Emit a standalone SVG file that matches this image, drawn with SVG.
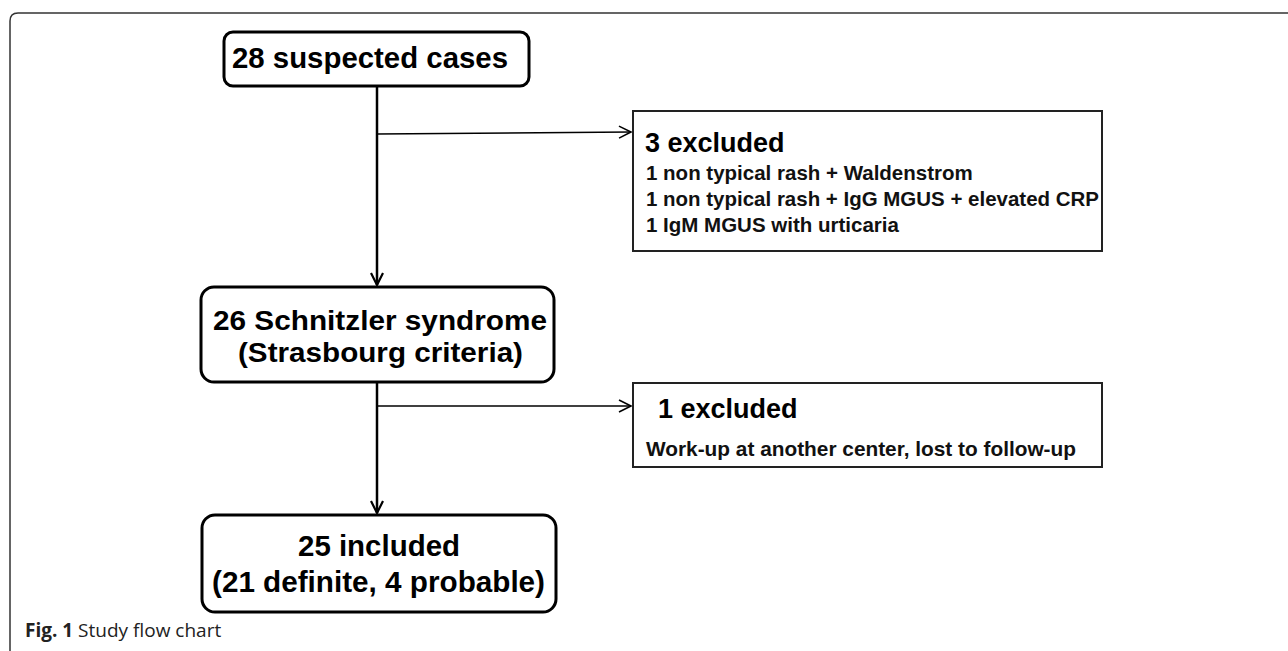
<svg xmlns="http://www.w3.org/2000/svg" width="1288" height="651" viewBox="0 0 1288 651">
<defs>
<style>
.frame{fill:none;stroke:#333;stroke-width:1.5}
.rbox{fill:#fff;stroke:#000;stroke-width:3}
.sbox{fill:#fff;stroke:#222;stroke-width:2}
.big{font-family:"Liberation Sans",Arial,sans-serif;font-weight:bold;fill:#000}
.small{font-family:"Liberation Sans",Arial,sans-serif;font-weight:bold;font-size:20.5px;fill:#111}
.main{fill:none;stroke:#000;stroke-width:2.5}
.branch{fill:none;stroke:#000;stroke-width:1.6}
.cap{font-family:"Open Sans","Noto Sans",sans-serif;font-size:19px;fill:#222}
</style>
<marker id="arrV" markerWidth="16" markerHeight="16" viewBox="0 0 16 16" refX="14" refY="8" orient="auto" markerUnits="userSpaceOnUse">
<path d="M2,2 L14,8 L2,14" fill="none" stroke="#000" stroke-width="2.2"/>
</marker>
<marker id="arrH" markerWidth="16" markerHeight="16" viewBox="0 0 16 16" refX="14" refY="8" orient="auto" markerUnits="userSpaceOnUse">
<path d="M2,2 L14,8 L2,14" fill="none" stroke="#000" stroke-width="1.6"/>
</marker>
</defs>
<rect width="1288" height="651" fill="#fff"/>
<path class="frame" d="M10,651 L10,21 Q10,13 18,13 L1288,13"/>

<g id="connectors">
<line class="main" x1="377" y1="86" x2="377" y2="285" marker-end="url(#arrV)"/>
<line class="branch" x1="377" y1="134" x2="631" y2="132" marker-end="url(#arrH)"/>
<line class="main" x1="377" y1="382" x2="377" y2="513" marker-end="url(#arrV)"/>
<line class="branch" x1="377" y1="406" x2="631" y2="406" marker-end="url(#arrH)"/>
</g>

<g id="node-suspected">
<rect class="rbox" x="224" y="32" width="305" height="54" rx="9"/>
<text class="big" x="232" y="68" font-size="29" textLength="276" lengthAdjust="spacingAndGlyphs">28 suspected cases</text>
</g>

<g id="node-excluded3">
<rect class="sbox" x="633" y="111" width="469" height="140"/>
<text class="big" x="645" y="152" font-size="27">3 excluded</text>
<text class="small" x="646" y="180">1 non typical rash + Waldenstrom</text>
<text class="small" x="646" y="206" textLength="453" lengthAdjust="spacingAndGlyphs">1 non typical rash + IgG MGUS + elevated CRP</text>
<text class="small" x="646" y="232">1 IgM MGUS with urticaria</text>
</g>

<g id="node-schnitzler">
<rect class="rbox" x="201" y="287" width="353" height="95" rx="13"/>
<text class="big" x="213" y="330" font-size="28.5" textLength="334" lengthAdjust="spacingAndGlyphs">26 Schnitzler syndrome</text>
<text class="big" x="238" y="362" font-size="28.5" textLength="285" lengthAdjust="spacingAndGlyphs">(Strasbourg criteria)</text>
</g>

<g id="node-excluded1">
<rect class="sbox" x="633" y="383" width="469" height="84"/>
<text class="big" x="658" y="418" font-size="27">1 excluded</text>
<text class="small" x="646" y="456" textLength="430" lengthAdjust="spacingAndGlyphs">Work-up at another center, lost to follow-up</text>
</g>

<g id="node-included">
<rect class="rbox" x="202" y="515" width="354" height="97" rx="13"/>
<text class="big" x="379" y="556" font-size="29" text-anchor="middle" textLength="162" lengthAdjust="spacingAndGlyphs">25 included</text>
<text class="big" x="212" y="592" font-size="29" textLength="333" lengthAdjust="spacingAndGlyphs">(21 definite, 4 probable)</text>
</g>

<text class="cap" x="25" y="637"><tspan font-weight="bold">Fig. 1</tspan> Study flow chart</text>
</svg>
